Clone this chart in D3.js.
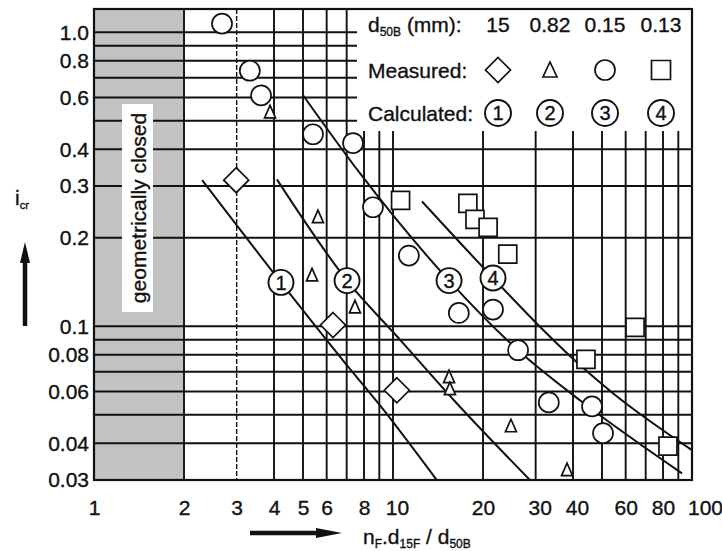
<!DOCTYPE html>
<html>
<head>
<meta charset="utf-8">
<script src="https://cdn.jsdelivr.net/npm/d3@7/dist/d3.min.js"></script>
<style>
  body { margin: 0; background: #fff; }
  text { font-family: "Liberation Sans", Arial, Helvetica, sans-serif; fill: #111; stroke: #111; stroke-width: 0.35px; }
</style>
</head>
<body>
<svg width="722" height="551"></svg>
<script>
// Ticks and grid
var xTicks = [1, 2, 3, 4, 5, 6, 8, 10, 20, 30, 40, 60, 80, 100];
var yTicks = [0.03, 0.04, 0.06, 0.08, 0.1, 0.2, 0.3, 0.4, 0.6, 0.8, 1.0];
var xGrid = [2, 3, 4, 5, 6, 7, 8, 9, 10, 20, 30, 40, 50, 60, 70, 80, 90];
var yGrid = [0.04, 0.05, 0.06, 0.07, 0.08, 0.09, 0.1, 0.2, 0.3, 0.4, 0.5, 0.6, 0.7, 0.8, 0.9, 1.0];

// Legend
var grainSizes = ["15", "0.82", "0.15", "0.13"];
var symbolKinds = ["diamond", "triangle", "circle", "square"];
var curveNames = ["1", "2", "3", "4"];

// Measured points [nF.d15F/d50B, icr]
var diamondPts = [[2.99, 0.314], [6.30, 0.101], [10.3, 0.0606]];
var trianglePts = [[3.88, 0.534], [5.61, 0.235], [5.36, 0.149], [7.46, 0.116],
                   [15.4, 0.0671], [15.5, 0.0611], [24.8, 0.0457], [38.2, 0.0324]];
var circlePts = [[2.68, 1.07], [3.32, 0.74], [3.62, 0.61], [5.40, 0.45], [7.35, 0.42],
                 [8.57, 0.254], [11.3, 0.174], [16.6, 0.111], [21.6, 0.114], [26.2, 0.0829],
                 [33.2, 0.0551], [46.3, 0.0534], [50.4, 0.0433]];
var squarePts = [[10.6, 0.268], [17.8, 0.262], [18.8, 0.231], [20.8, 0.217], [24.2, 0.176],
                 [64.5, 0.0992], [44.2, 0.0772], [83.1, 0.0391]];

// Calculated curves
var calc1 = [[2.30, 0.314], [4.22, 0.141], [6.80, 0.0766], [9.05, 0.0538], [14.0, 0.030]];
var calc2 = [[4.09, 0.316], [7.02, 0.143], [10.6, 0.0896], [16.1, 0.0556], [28.7, 0.030]];
var calc3 = [[5.0, 0.611], [7.76, 0.331], [15.4, 0.143], [26.2, 0.0829], [42.2, 0.056], [92.6, 0.0316]];
var calc4 = [[12.5, 0.266], [21.6, 0.146], [30.3, 0.102], [41.2, 0.0754], [54.4, 0.0592], [100, 0.0379]];
var curveLabelPts = [[4.22, 0.141], [7.02, 0.143], [15.4, 0.143], [21.6, 0.146]];

var svg = d3.select("svg");
var FS = 21;

var x = d3.scaleLog().domain([1, 100]).range([94, 692]);
var y = d3.scaleLog().domain([0.03, 1.2]).range([480, 9]);

var plotL = x(1), plotR = x(100), plotT = y(1.2), plotB = y(0.03);

// closed zone between 1 and 2
svg.append("rect")
    .attr("x", plotL).attr("y", plotT)
    .attr("width", x(2) - plotL).attr("height", plotB - plotT)
    .attr("fill", "#c3c3c3");

// grid
var grid = svg.append("g").attr("stroke", "#111").attr("stroke-width", 1.9);
grid.selectAll(".hg").data(yGrid).enter().append("line")
    .attr("x1", plotL).attr("x2", plotR)
    .attr("y1", d => y(d)).attr("y2", d => y(d));
grid.selectAll(".vg").data(xGrid).enter().append("line")
    .attr("x1", d => x(d)).attr("x2", d => x(d))
    .attr("y1", plotT).attr("y2", plotB)
    .attr("stroke-dasharray", d => d == 3 ? "5,2" : null)
    .attr("stroke-width", d => d == 3 ? 1.4 : 1.9);

// label box inside the grey zone
svg.append("rect")
    .attr("x", 122).attr("y", 104).attr("width", 31).attr("height", 208)
    .attr("fill", "#fff");
svg.append("text")
    .attr("transform", "translate(139,208) rotate(-90)")
    .attr("text-anchor", "middle").attr("dy", "0.35em")
    .attr("font-size", FS)
    .text("geometrically closed");

// legend area (blank over grid)
svg.append("rect")
    .attr("x", 357).attr("y", plotT).attr("width", plotR - 357).attr("height", 131 - plotT)
    .attr("fill", "#fff");

// frame
svg.append("rect")
    .attr("x", plotL).attr("y", plotT).attr("width", plotR - plotL).attr("height", plotB - plotT)
    .attr("fill", "none").attr("stroke", "#111").attr("stroke-width", 2.2);

// axes
var xAxis = svg.append("g")
    .attr("transform", "translate(0," + plotB + ")")
    .call(d3.axisBottom(x).tickValues(xTicks).tickFormat(d3.format("d")).tickSize(0).tickPadding(20));
var yAxis = svg.append("g")
    .attr("transform", "translate(" + plotL + ",0)")
    .call(d3.axisLeft(y).tickValues(yTicks).tickFormat(d => d == 1 ? "1.0" : String(d)).tickSize(0).tickPadding(5));
[xAxis, yAxis].forEach(function (g) {
    g.select(".domain").remove();
    g.selectAll("text").attr("font-size", FS).attr("font-family", null).attr("fill", "#111");
});
xAxis.selectAll("text").filter(d => d == 100).attr("dx", 13);
xAxis.selectAll("text").filter(d => d == 10 || d == 30 || d == 40).attr("dx", 4);

// calculated curves
var line = d3.line()
    .x(d => x(d[0]))
    .y(d => y(d[1]))
    .curve(d3.curveMonotoneX);
svg.append("g").selectAll("path")
    .data([calc1, calc2, calc3, calc4])
    .enter().append("path")
    .attr("d", line)
    .attr("fill", "none").attr("stroke", "#111").attr("stroke-width", 2);

// symbols
function symbolPath(kind, big) {
    if (kind == "diamond") { var h = 12.5; return "M0," + (-h) + "L" + h + ",0L0," + h + "L" + (-h) + ",0Z"; }
    if (kind == "triangle") { var w = big ? 7 : 5.5, t = big ? 8 : 7, b = big ? 7 : 5.5; return "M0," + (-t) + "L" + w + "," + b + "L" + (-w) + "," + b + "Z"; }
    if (kind == "square") { var s = big ? 9.5 : 9; return "M" + (-s) + "," + (-s) + "h" + 2 * s + "v" + 2 * s + "h" + (-2 * s) + "Z"; }
    var r = 10;
    return "M" + r + ",0A" + r + "," + r + " 0 1,1 " + (-r) + ",0A" + r + "," + r + " 0 1,1 " + r + ",0Z";
}

var measured = [diamondPts, trianglePts, circlePts, squarePts];
measured.forEach(function (pts, i) {
    svg.append("g").selectAll("path")
        .data(pts)
        .enter().append("path")
        .attr("transform", d => "translate(" + x(d[0]) + "," + y(d[1]) + ")")
        .attr("d", symbolPath(symbolKinds[i], false))
        .attr("fill", "#fff").attr("stroke", "#111").attr("stroke-width", 1.7);
});

// circled curve numbers
var cl = svg.append("g").selectAll("g")
    .data(curveLabelPts)
    .enter().append("g")
    .attr("transform", d => "translate(" + x(d[0]) + "," + y(d[1]) + ")");
cl.append("circle").attr("r", 12.5).attr("fill", "#fff").attr("stroke", "#111").attr("stroke-width", 1.9);
cl.append("text").attr("text-anchor", "middle").attr("dy", "0.36em").attr("font-size", 20)
    .text((d, i) => curveNames[i]);

// legend
var colX = [498, 550, 605, 661];
var leg = svg.append("g");
var t1 = leg.append("text").attr("x", 368).attr("y", 32).attr("font-size", FS);
t1.append("tspan").text("d");
t1.append("tspan").attr("font-size", 12).attr("dy", 4).text("50B");
t1.append("tspan").attr("dy", -4).text(" (mm):");
leg.append("text").attr("x", 368).attr("y", 78).attr("font-size", FS).text("Measured:");
leg.append("text").attr("x", 368).attr("y", 121).attr("font-size", FS).text("Calculated:");

leg.selectAll(".gs").data(grainSizes).enter().append("text")
    .attr("x", (d, i) => colX[i]).attr("y", 32)
    .attr("text-anchor", "middle").attr("font-size", FS)
    .text(d => d);
leg.selectAll(".ms").data(symbolKinds).enter().append("path")
    .attr("transform", (d, i) => "translate(" + colX[i] + ",70)")
    .attr("d", d => symbolPath(d, true))
    .attr("fill", "#fff").attr("stroke", "#111").attr("stroke-width", 1.7);
var lc = leg.selectAll(".lc").data(curveNames).enter().append("g")
    .attr("transform", (d, i) => "translate(" + colX[i] + ",113)");
lc.append("circle").attr("r", 13).attr("fill", "#fff").attr("stroke", "#111").attr("stroke-width", 1.9);
lc.append("text").attr("text-anchor", "middle").attr("dy", "0.36em").attr("font-size", 20).text(d => d);

// axis titles
var xt = svg.append("text").attr("x", 363).attr("y", 544).attr("font-size", FS);
xt.append("tspan").text("n");
xt.append("tspan").attr("font-size", 12).attr("dy", 4).text("F");
xt.append("tspan").attr("dy", -4).text(".d");
xt.append("tspan").attr("font-size", 12).attr("dy", 4).text("15F");
xt.append("tspan").attr("dy", -4).text(" / d");
xt.append("tspan").attr("font-size", 12).attr("dy", 4).text("50B");

var yt = svg.append("text").attr("x", 15).attr("y", 205).attr("font-size", FS);
yt.append("tspan").text("i");
yt.append("tspan").attr("font-size", 11).attr("dy", 4).text("cr");

// arrows
svg.append("line").attr("x1", 250).attr("x2", 322).attr("y1", 533).attr("y2", 533)
    .attr("stroke", "#111").attr("stroke-width", 4.5);
svg.append("path").attr("d", "M316,528L342,533L316,538Z").attr("fill", "#111");
svg.append("line").attr("x1", 25).attr("x2", 25).attr("y1", 326).attr("y2", 258)
    .attr("stroke", "#111").attr("stroke-width", 4.5);
svg.append("path").attr("d", "M20,263L25,242L30,263Z").attr("fill", "#111");
</script>
</body>
</html>
